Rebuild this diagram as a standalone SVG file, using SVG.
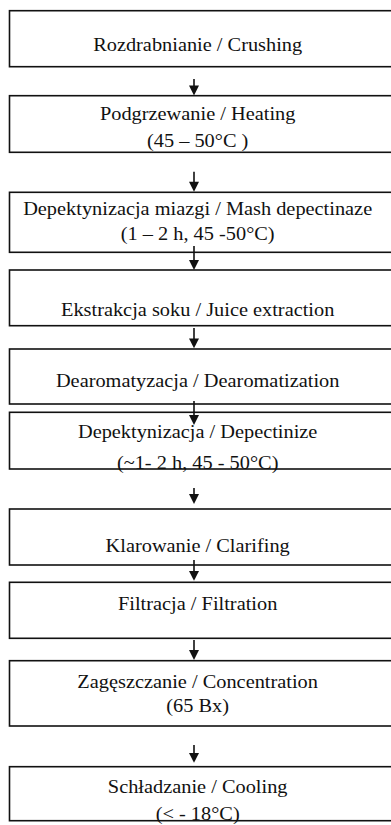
<svg xmlns="http://www.w3.org/2000/svg" width="391" height="825" viewBox="0 0 391 825">
<style>
.box{fill:#fff;stroke:#111;stroke-width:1.6}
.lbl{font-family:"Liberation Serif","Times New Roman",serif;font-size:18.5px;fill:#111;text-anchor:middle}
.ln{stroke:#111;stroke-width:1.6;fill:none}
.hd{fill:#111}
</style>
<rect width="391" height="825" fill="#fff"/>
<g id="n1"><rect class="box" x="9.5" y="10.7" width="400" height="56"/><g transform="scale(1.1,1)"><text class="lbl" x="179.7" y="50.7">Rozdrabnianie / Crushing</text></g></g>
<g id="n2"><rect class="box" x="9.5" y="95.7" width="400" height="56.6"/><g transform="scale(1.1,1)"><text class="lbl" x="179.7" y="120">Podgrzewanie / Heating</text><text class="lbl" x="179.7" y="147">(45 – 50°C )</text></g></g>
<g id="n3"><rect class="box" x="9.5" y="192.3" width="400" height="60"/><g transform="scale(1.1,1)"><text class="lbl" x="179.7" y="215">Depektynizacja miazgi / Mash depectinaze</text><text class="lbl" x="179.7" y="240">(1 – 2 h, 45 -50°C)</text></g></g>
<g id="n4"><rect class="box" x="9.5" y="270" width="400" height="55.7"/><g transform="scale(1.1,1)"><text class="lbl" x="179.7" y="315.7">Ekstrakcja soku / Juice extraction</text></g></g>
<g id="n5"><rect class="box" x="9.5" y="349" width="400" height="55"/><g transform="scale(1.1,1)"><text class="lbl" x="179.7" y="386.7">Dearomatyzacja / Dearomatization</text></g></g>
<g id="n6"><rect class="box" x="9.5" y="412.3" width="400" height="56.7"/><g transform="scale(1.1,1)"><text class="lbl" x="179.7" y="438.3">Depektynizacja / Depectinize</text><text class="lbl" x="179.7" y="469.5">(~1- 2 h, 45 - 50°C)</text></g></g>
<g id="n7"><rect class="box" x="9.5" y="509" width="400" height="56"/><g transform="scale(1.1,1)"><text class="lbl" x="179.7" y="552">Klarowanie / Clarifing</text></g></g>
<g id="n8"><rect class="box" x="9.5" y="582.3" width="400" height="56"/><g transform="scale(1.1,1)"><text class="lbl" x="179.7" y="610">Filtracja / Filtration</text></g></g>
<g id="n9"><rect class="box" x="9.5" y="660.7" width="400" height="65.3"/><g transform="scale(1.1,1)"><text class="lbl" x="179.7" y="688.3">Zagęszczanie / Concentration</text><text class="lbl" x="179.7" y="711.7">(65 Bx)</text></g></g>
<g id="n10"><rect class="box" x="9.5" y="766.7" width="400" height="54"/><g transform="scale(1.1,1)"><text class="lbl" x="179.7" y="793.3">Schładzanie / Cooling</text><text class="lbl" x="179.7" y="820">(&lt; - 18°C)</text></g></g>
<g id="connectors">
<line class="ln" x1="194" y1="79" x2="194" y2="87"/><polygon class="hd" points="189,85.5 199,85.5 194,95.5"/>
<line class="ln" x1="194" y1="171.7" x2="194" y2="183"/><polygon class="hd" points="189,181.7 199,181.7 194,191.7"/>
<line class="ln" x1="194" y1="246" x2="194" y2="261"/><polygon class="hd" points="189,260 199,260 194,270"/>
<line class="ln" x1="194" y1="328" x2="194" y2="340"/><polygon class="hd" points="189,338.5 199,338.5 194,348.3"/>
<line class="ln" x1="194" y1="401" x2="194" y2="416"/><polygon class="hd" points="189,415 199,415 194,425"/>
<line class="ln" x1="194" y1="488" x2="194" y2="495"/><polygon class="hd" points="189,494 199,494 194,504"/>
<line class="ln" x1="194" y1="560" x2="194" y2="572"/><polygon class="hd" points="189,571 199,571 194,580.7"/>
<line class="ln" x1="194" y1="640" x2="194" y2="651"/><polygon class="hd" points="189,650 199,650 194,660"/>
<line class="ln" x1="194" y1="745" x2="194" y2="754"/><polygon class="hd" points="189,753 199,753 194,762.7"/>
</g>
</svg>
